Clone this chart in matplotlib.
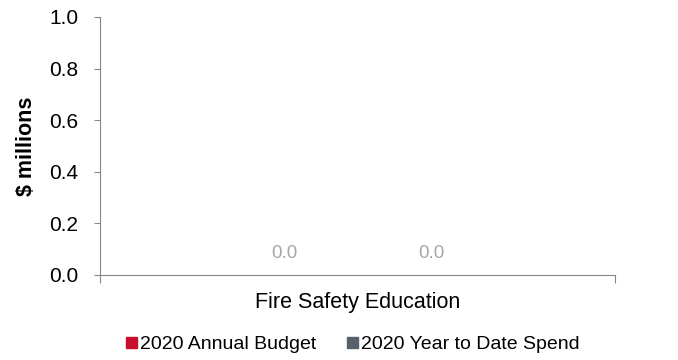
import matplotlib.pyplot as plt
import numpy as np

plt.rcParams['font.family'] = ['Liberation Sans', 'DejaVu Sans']

categories = ['Fire Safety Education']
series_names = ['2020 Annual Budget', '2020 Year to Date Spend']
budget = [0.0]
spend = [0.0]
colors = ['#C8102E', '#56616B']

fig = plt.figure(figsize=(6.78, 3.6), dpi=100)
ax = fig.add_axes([100 / 678, 1 - 275 / 360, 515 / 678, 258 / 360])

x = np.arange(len(categories)) + 0.5
w = 0.285
for i, (vals, name) in enumerate(zip([budget, spend], series_names)):
    pos = x + (i - 0.5) * w
    bars = ax.bar(pos, vals, width=w * 0.9, color=colors[i], label=name)
    for b, v in zip(bars, vals):
        ax.annotate('{:.1f}'.format(v), (b.get_x() + b.get_width() / 2, v),
                    xytext=(0, 9), textcoords='offset points',
                    ha='center', va='bottom', color='#A6A6A6', fontsize=13.5)

ticks = np.arange(0, 1.01, 0.2)
ax.set_xlim(0, 1)
ax.set_ylim(0, 1.0)
ax.set_yticks(ticks)
ax.set_yticklabels(['{:.1f}'.format(t) for t in ticks], fontsize=15)
ax.set_xticks([0, 1])
ax.set_xticklabels(['', ''])
ax.tick_params(axis='y', length=4.5, color='#868686', pad=11)
ax.tick_params(axis='x', length=6, color='#868686')
ax.text(0.5, -0.065, categories[0], transform=ax.transAxes, ha='center', va='top', fontsize=15.5)
ax.set_ylabel('$ millions', fontsize=15.5, fontweight='bold', labelpad=9)

for s in ['top', 'right']:
    ax.spines[s].set_visible(False)
for s in ['left', 'bottom']:
    ax.spines[s].set_color('#868686')

handles = [plt.Rectangle((0, 0), 1, 1, color=c) for c in colors]
fig.legend(handles, series_names, loc='center', bbox_to_anchor=(0.52, 0.042),
           ncol=2, frameon=False, fontsize=14, handlelength=0.55, handleheight=0.55,
           handletextpad=0.15, columnspacing=1.6)

fig.savefig('out.png', dpi=100)
